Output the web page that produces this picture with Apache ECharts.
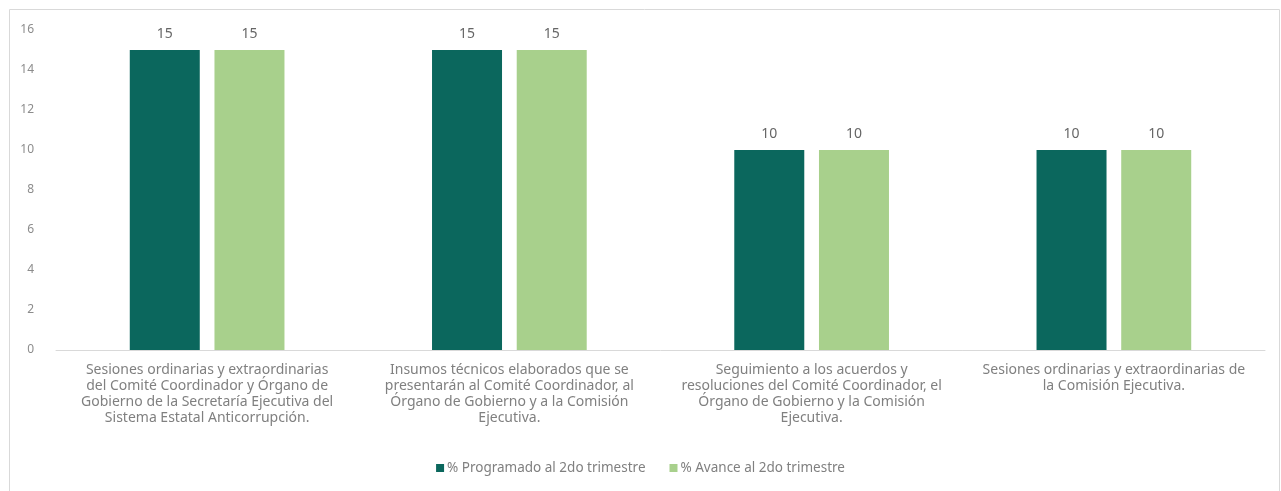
<!DOCTYPE html>
<html>
<head>
<meta charset="utf-8">
<script src="https://cdn.jsdelivr.net/npm/echarts@6/dist/echarts.min.js"></script>
<style>
  html, body { margin: 0; padding: 0; background: #fff; }
  #chart { width: 1281px; height: 491px; }
</style>
</head>
<body>
<div id="chart"></div>
<script>
const categories = [
  "Sesiones ordinarias y extraordinarias\ndel Comité Coordinador y Órgano de\nGobierno de la Secretaría Ejecutiva del\nSistema Estatal Anticorrupción.",
  "Insumos técnicos elaborados que se\npresentarán al Comité Coordinador, al\nÓrgano de Gobierno y a la Comisión\nEjecutiva.",
  "Seguimiento a los acuerdos y\nresoluciones del Comité Coordinador, el\nÓrgano de Gobierno y la Comisión\nEjecutiva.",
  "Sesiones ordinarias y extraordinarias de\nla Comisión Ejecutiva."
];
const programado = [15, 15, 10, 10];
const avance = [15, 15, 10, 10];
const seriesNames = ["% Programado al 2do trimestre", "% Avance al 2do trimestre"];

const font = "Noto Sans";
const chart = echarts.init(document.getElementById("chart"));
chart.setOption({
  animation: false,
  textStyle: { fontFamily: font },
  graphic: [
    {
      type: "rect",
      shape: { x: 9.5, y: 9.5, width: 1270, height: 500 },
      style: { fill: "none", stroke: "#d9d9d9", lineWidth: 1 },
      silent: true
    }
  ],
  legend: {
    data: seriesNames,
    bottom: 11,
    left: "center",
    itemWidth: 8,
    itemHeight: 8,
    itemGap: 24,
    icon: "rect",
    textStyle: { color: "#808080", fontSize: 13.5, fontFamily: font, padding: [0, 0, 0, -2] }
  },
  grid: { left: 56, right: 16, top: 30, bottom: 141 },
  xAxis: {
    type: "category",
    data: categories,
    axisLine: { lineStyle: { color: "#d9d9d9" } },
    axisTick: { show: false },
    axisLabel: {
      color: "#808080",
      fontSize: 14,
      lineHeight: 16,
      margin: 12,
      interval: 0,
      fontFamily: font
    }
  },
  yAxis: {
    type: "value",
    min: 0,
    max: 16,
    interval: 2,
    splitLine: { show: false },
    axisLine: { show: false },
    axisTick: { show: false },
    axisLabel: { color: "#8c8c8c", fontSize: 12, margin: 22, fontFamily: font }
  },
  series: [
    {
      name: seriesNames[0],
      type: "bar",
      data: programado,
      barWidth: 70,
      barGap: "21%",
      itemStyle: { color: "#0b675d" },
      label: { show: true, position: "top", distance: 9, color: "#666666", fontSize: 14, fontFamily: font }
    },
    {
      name: seriesNames[1],
      type: "bar",
      data: avance,
      barWidth: 70,
      itemStyle: { color: "#a8d08c" },
      label: { show: true, position: "top", distance: 9, color: "#666666", fontSize: 14, fontFamily: font }
    }
  ]
});
</script>
</body>
</html>
